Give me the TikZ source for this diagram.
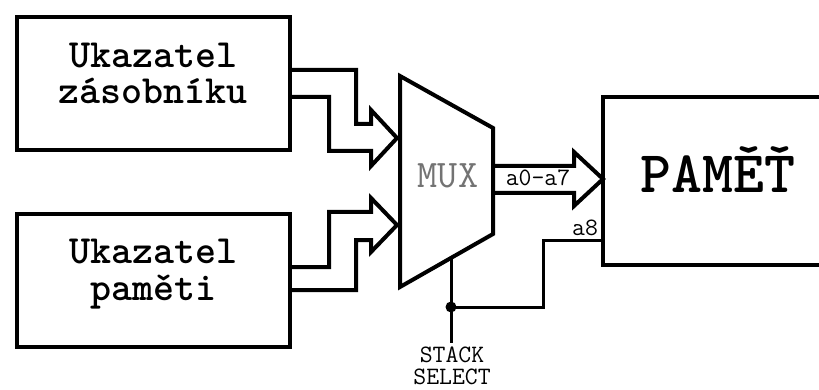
\documentclass[tikz,border=0pt]{standalone}
\usepackage{fontspec}
\begin{document}
\begin{tikzpicture}[x=1pt,y=-1pt,
  thick4/.style={line width=4pt, line join=miter, miter limit=10},
  thin3/.style={line width=3pt},
  box/.style={draw, line width=4pt, outer sep=0pt, inner sep=0pt, minimum width=273pt, minimum height=133pt},
  boxtxt/.style={anchor=base, inner sep=0pt, align=center, font=\ttfamily\bfseries\fontsize{40}{36.5}\selectfont\addfontfeatures{FakeBold=1}},
  smalltxt/.style={anchor=base, inner sep=0pt, align=center, font=\ttfamily\fontsize{25}{22}\selectfont}]
\useasboundingbox (0,0) rectangle (819,390);
% boxes
\node[box] (b1) at (153.5,83.5) {};
\node[box] (b2) at (153.5,280.5) {};
\node[draw, line width=4pt, outer sep=0pt, inner sep=0pt, minimum width=230pt, minimum height=168pt] (mem) at (718,181) {};
% box texts
\node[boxtxt] (t1) at (153,104) {Ukazatel\\zásobníku};
\node[boxtxt] (t2) at (153,300) {Ukazatel\\paměti};
\node[anchor=base, inner sep=0pt, font=\ttfamily\bfseries\fontsize{59}{59}\selectfont\addfontfeatures{FakeBold=1}] (memt) at (718,193) {PAMĚŤ};
% MUX
\coordinate (mtl) at (400,76);
\coordinate (mtr) at (493,128);
\coordinate (mbr) at (493,234);
\coordinate (mbl) at (400,287);
\draw[thick4] (mtl) -- (mtr) -- (mbr) -- (mbl) -- cycle;
\node[anchor=base, inner sep=0pt, text=black!55, font=\ttfamily\fontsize{39}{39}\selectfont] (muxt) at (448,188) {MUX};
% input arrow 1
\draw[thick4] (b1.east |- 0,70) -- (356,70) -- (356,124) -- (371,124) -- (371,110) -- (397,138) -- (371,166) -- (371,151) -- (329,151) -- (329,97) -- (b1.east |- 0,97);
% input arrow 2
\draw[thick4] (b2.east |- 0,267) -- (329,267) -- (329,212) -- (371,212) -- (371,198) -- (397,225) -- (371,252) -- (371,240) -- (356,240) -- (356,290) -- (b2.east |- 0,290);
% output arrow
\draw[thick4] (mtr |- 0,166) -- (574,166) -- (574,152) -- (mem.west |- 0,179) -- (574,206) -- (574,193) -- (mtr |- 0,193);
\node[smalltxt] (a07) at (538,186) {a0-a7};
% a8 line and select
\coordinate (sel0) at (451,258);
\coordinate (sel1) at (451,343);
\coordinate (jn) at (451,307);
\draw[thin3] (mem.west |- 0,240) -- (543,240) -- (543,307) -- (jn);
\draw[thin3] (sel0) -- (sel1);
\fill (jn) circle (5.5);
\node[smalltxt] (a8t) at (585,235) {a8};
\node[smalltxt] (st) at (452,384.5) {STACK\\SELECT};
\end{tikzpicture}
\end{document}
